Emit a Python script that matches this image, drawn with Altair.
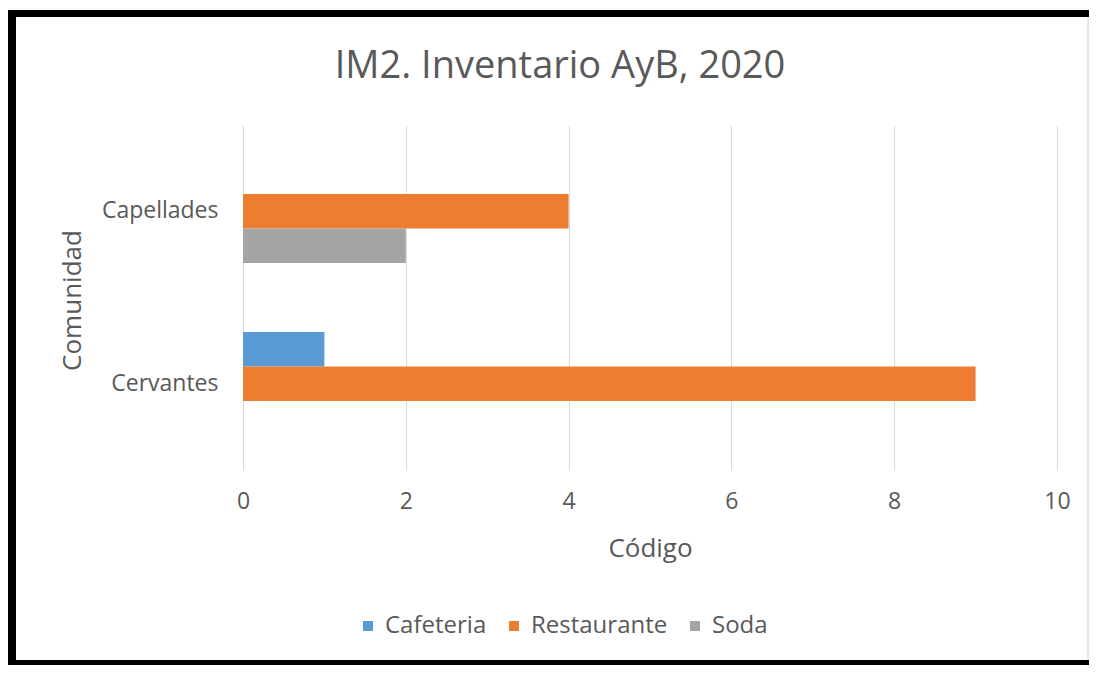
import altair as alt
import pandas as pd

comunidades = ["Cervantes", "Capellades"]
series = ["Cafeteria", "Restaurante", "Soda"]
cafeteria = [1, 0]
restaurante = [9, 4]
soda = [0, 2]
colors = ["#5B9BD5", "#ED7D31", "#A5A5A5"]
x_ticks = [0, 2, 4, 6, 8, 10]

rows = []
for s, vals in zip(series, [cafeteria, restaurante, soda]):
    for c, v in zip(comunidades, vals):
        rows.append({"Comunidad": c, "Tipo": s, "Valor": v})
df = pd.DataFrame(rows)

FONT = "Open Sans"
GREY = "#595959"

bars = alt.Chart(df).mark_bar().encode(
    x=alt.X(
        "Valor:Q",
        scale=alt.Scale(domain=[0, 10], nice=False),
        axis=alt.Axis(
            values=x_ticks, title="Código", grid=True, gridColor="#d9d9d9",
            domain=False, ticks=False, labelFontSize=23, labelColor=GREY,
            labelPadding=20, labelFont=FONT, labelFlush=False,
            titleFont=FONT, titleFontSize=26,
            titleColor=GREY, titleFontWeight="normal", titleY=78,
            titleBaseline="middle",
        ),
    ),
    y=alt.Y(
        "Comunidad:N",
        sort=["Capellades", "Cervantes"],
        scale=alt.Scale(paddingInner=0.4, paddingOuter=0.2),
        axis=alt.Axis(
            title="Comunidad", domain=False, ticks=False, grid=False,
            labelFontSize=23,
            labelColor=GREY, labelPadding=25, labelFont=FONT, titleFont=FONT,
            titleFontSize=26, titleColor=GREY, titleFontWeight="normal",
            titleX=-171, titleY=175, titleBaseline="middle", titleAngle=270,
        ),
    ),
    yOffset=alt.YOffset("Tipo:N", sort=series,
                        scale=alt.Scale(paddingInner=0, paddingOuter=0)),
    color=alt.Color(
        "Tipo:N", sort=series,
        scale=alt.Scale(domain=series, range=colors),
        legend=alt.Legend(
            title=None, orient="none", legendX=113, legendY=489,
            direction="horizontal", symbolType="square", symbolSize=100,
            labelFontSize=24, labelColor=GREY, labelFont=FONT,
            columnPadding=15, labelOffset=5, symbolStrokeWidth=0,
        ),
    ),
)

frame_df = pd.DataFrame({"k": [0]})
left = alt.Chart(frame_df).mark_rule(color="black", strokeWidth=8).encode(
    x=alt.value(-231), y=alt.value(-115), y2=alt.value(540))
top = alt.Chart(frame_df).mark_rule(color="black", strokeWidth=7).encode(
    y=alt.value(-111.5), x=alt.value(-235), x2=alt.value(846))
bottom = alt.Chart(frame_df).mark_rule(color="black", strokeWidth=5).encode(
    y=alt.value(537.5), x=alt.value(-235), x2=alt.value(846))
right = alt.Chart(frame_df).mark_rule(color="#d0d0d0", strokeWidth=1).encode(
    x=alt.value(845), y=alt.value(-108), y2=alt.value(535))

chart = alt.layer(bars, left, top, bottom, right).properties(
    width=814,
    height=345,
    background="white",
    title=alt.TitleParams(
        "IM2. Inventario AyB, 2020", fontSize=38, color=GREY, font=FONT,
        fontWeight="normal", anchor="middle", dx=-90, offset=0, dy=110,
        baseline="alphabetic",
    ),
    autosize=alt.AutoSizeParams(type="none"),
    padding={"left": 235, "top": 117, "right": 32, "bottom": 195},
).configure_view(strokeWidth=0, stroke="transparent")

chart.save("out.html", embed_options={"renderer": "svg", "actions": False})
